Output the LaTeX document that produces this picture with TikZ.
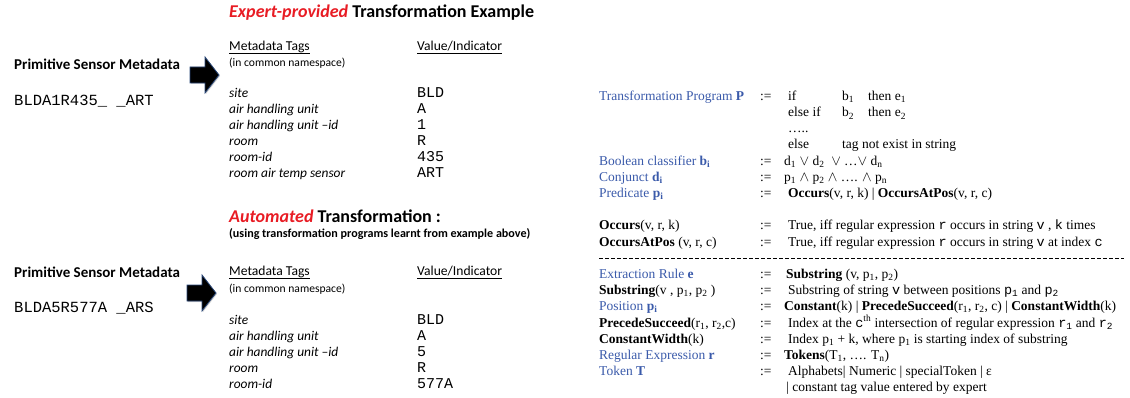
\documentclass[tikz,border=0pt]{standalone}
\usepackage{fontspec}
\newfontfamily\calibri{Carlito}
\newfontfamily\tmsfont{Liberation Serif}
\newfontfamily\lmono{Liberation Mono}
\usetikzlibrary{shadows}
\definecolor{ered}{RGB}{232,28,36}
\definecolor{pblue}{RGB}{58,90,170}
\definecolor{arrowedge}{RGB}{40,70,120}
\newcommand{\tw}[1]{{\lmono #1}}
\begin{document}
\begin{tikzpicture}[x=1pt,y=-1pt,
  every node/.style={inner sep=0pt, anchor=base west},
  ttl/.style={font=\calibri\bfseries\fontsize{18}{21}\selectfont},
  subt/.style={font=\calibri\bfseries\fontsize{12.1}{14}\selectfont},
  hdr/.style={font=\calibri\fontsize{13.6}{16}\selectfont},
  nsp/.style={font=\calibri\fontsize{11.6}{14}\selectfont},
  psm/.style={font=\calibri\bfseries\fontsize{15}{18}\selectfont},
  raw/.style={font=\lmono\fontsize{15.5}{18}\selectfont},
  tag/.style={font=\calibri\itshape\fontsize{13.4}{16}\selectfont},
  val/.style={font=\lmono\fontsize{15}{18}\selectfont},
  def/.style={font=\tmsfont\fontsize{13.5}{16}\selectfont},
  deflbl/.style={def, text=pblue},
  ulin/.style={line width=0.6pt},
  blockarrow/.style={fill=black, draw=arrowedge, line width=0.8pt, line join=miter,
    drop shadow={shadow xshift=1pt, shadow yshift=-1pt, opacity=0.35}},
  dashrule/.style={line width=1pt, dash pattern=on 4pt off 2pt}
]
\useasboundingbox (0,0) rectangle (1130,398);

% ---------------- top block ----------------
\node[ttl] (t1) at (229,17.5) {{\color{ered}\itshape Expert-provided} Transformation Example};
\node[hdr] (mt1) at (229,50.5) {Metadata Tags};
\node[hdr] (vi1) at (417,50.5) {Value/Indicator};
\draw[ulin] ([yshift=-2.5pt]mt1.base west) -- ([yshift=-2.5pt]mt1.base east);
\draw[ulin] ([yshift=-2.5pt]vi1.base west) -- ([yshift=-2.5pt]vi1.base east);
\node[nsp] (ns1) at (229,66.5) {(in common namespace)};
\node[psm] (psm1) at (14,69.5) {Primitive Sensor Metadata};
\node[raw] (raw1) at (14,106) {BLDA1R435\_ \_ART};
\draw[blockarrow] (190,67) -- (205,67) -- (205,57) -- (219,75) -- (205,93) -- (205,83) -- (190,83) -- cycle;

\node[tag] (a1) at (229,98) {site};
\node[tag] (a2) at (229,114) {air handling unit};
\node[tag] (a3) at (229,130) {air handling unit –id};
\node[tag] (a4) at (229,146) {room};
\node[tag] (a5) at (229,162) {room-id};
\node[tag] (a6) at (229,178) {room air temp sensor};
\node[val] (v1) at (417,98) {BLD};
\node[val] (v2) at (417,114) {A};
\node[val] (v3) at (417,130) {1};
\node[val] (v4) at (417,146) {R};
\node[val] (v5) at (417,162) {435};
\node[val] (v6) at (417,178) {ART};

% ---------------- bottom block ----------------
\node[ttl] (t2) at (229,223) {{\color{ered}\itshape Automated} Transformation :};
\node[subt] (us2) at (229,238) {(using transformation programs learnt from example above)};
\node[hdr] (mt2) at (229,276) {Metadata Tags};
\node[hdr] (vi2) at (417,276) {Value/Indicator};
\draw[ulin] ([yshift=-2.5pt]mt2.base west) -- ([yshift=-2.5pt]mt2.base east);
\draw[ulin] ([yshift=-2.5pt]vi2.base west) -- ([yshift=-2.5pt]vi2.base east);
\node[nsp] (ns2) at (229,292) {(in common namespace)};
\node[psm] (psm2) at (14,277.5) {Primitive Sensor Metadata};
\node[raw] (raw2) at (14,312) {BLDA5R577A \_ARS};
\draw[blockarrow] (187,285) -- (202,285) -- (202,275) -- (216,293) -- (202,311) -- (202,301) -- (187,301) -- cycle;

\node[tag] (b1) at (229,324) {site};
\node[tag] (b2) at (229,340) {air handling unit};
\node[tag] (b3) at (229,356) {air handling unit –id};
\node[tag] (b4) at (229,372) {room};
\node[tag] (b5) at (229,388) {room-id};
\node[val] (w1) at (417,324) {BLD};
\node[val] (w2) at (417,340) {A};
\node[val] (w3) at (417,356) {5};
\node[val] (w4) at (417,372) {R};
\node[val] (w5) at (417,388) {577A};

% ---------------- grammar ----------------
\node[deflbl] (g1) at (599,100.5) {Transformation Program \textbf{P}};
\node[def] (g1s) at (760,100.5) {:=};
\node[def] (g1a) at (788,100.5) {if};
\node[def] (g1b) at (842,100.5) {b\textsubscript{1}};
\node[def] (g1c) at (868,100.5) {then e\textsubscript{1}};
\node[def] (g2a) at (788,117) {else if};
\node[def] (g2b) at (842,117) {b\textsubscript{2}};
\node[def] (g2c) at (868,117) {then e\textsubscript{2}};
\node[def] (g3a) at (788,132.5) {\ldots..};
\node[def] (g4a) at (788,149) {else};
\node[def] (g4b) at (842,149) {tag not exist in string};

\node[deflbl] (g5) at (599,165.5) {Boolean classifier \textbf{b\textsubscript{i}}};
\node[def] (g5s) at (760,165.5) {:=};
\node[def] (g5a) at (784,165.5) {d\textsubscript{1} $\vee$\ d\textsubscript{2} \ $\vee$ \ldots$\vee$\ d\textsubscript{n}};
\node[deflbl] (g6) at (599,181.5) {Conjunct \textbf{d\textsubscript{i}}};
\node[def] (g6s) at (760,181.5) {:=};
\node[def] (g6a) at (784,181.5) {p\textsubscript{1} $\wedge$\ p\textsubscript{2} $\wedge$ \ldots. $\wedge$\ p\textsubscript{n}};
\node[deflbl] (g7) at (599,197.5) {Predicate \textbf{p\textsubscript{i}}};
\node[def] (g7s) at (760,197.5) {:=};
\node[def] (g7a) at (788,197.5) {\textbf{Occurs}(v, r, k) | \textbf{OccursAtPos}(v, r, c)};

\node[def] (g8) at (599,230) {\textbf{Occurs}(v, r, k)};
\node[def] (g8s) at (760,230) {:=};
\node[def] (g8a) at (788,230) {True, iff regular expression \tw{r} occurs in string \tw{v} , \tw{k} times};
\node[def] (g9) at (599,246.5) {\textbf{OccursAtPos} (v, r, c)};
\node[def] (g9s) at (760,246.5) {:=};
\node[def] (g9a) at (788,246.5) {True, iff regular expression \tw{r} occurs in string \tw{v} at index \tw{c}};

\coordinate (dl) at (599,258.5);
\coordinate (dr) at (1124,258.5);
\draw[dashrule] (dl) -- (dr);

\node[deflbl] (h1) at (599,278) {Extraction Rule \textbf{e}};
\node[def] (h1s) at (760,278) {:=};
\node[def] (h1a) at (786,278) {\textbf{Substring} (v, p\textsubscript{1}, p\textsubscript{2})};
\node[def] (h2) at (599,294.5) {\textbf{Substring}(v , p\textsubscript{1}, p\textsubscript{2} )};
\node[def] (h2s) at (760,294.5) {:=};
\node[def] (h2a) at (788,294.5) {Substring of string \tw{v} between positions \tw{p\textsubscript{1}} and \tw{p\textsubscript{2}}};
\node[deflbl] (h3) at (599,310.5) {Position \textbf{p\textsubscript{i}}};
\node[def] (h3s) at (760,310.5) {:=};
\node[def] (h3a) at (784,310.5) {\textbf{Constant}(k) | \textbf{PrecedeSucceed}(r\textsubscript{1}, r\textsubscript{2}, c) | \textbf{ConstantWidth}(k)};
\node[def] (h4) at (599,327) {\textbf{PrecedeSucceed}(r\textsubscript{1}, r\textsubscript{2},c)};
\node[def] (h4s) at (760,327) {:=};
\node[def] (h4a) at (788,327) {Index at the \tw{c}\textsuperscript{th} intersection of regular expression \tw{r\textsubscript{1}} and \tw{r\textsubscript{2}}};
\node[def] (h5) at (599,343) {\textbf{ConstantWidth}(k)};
\node[def] (h5s) at (760,343) {:=};
\node[def] (h5a) at (788,343) {Index p\textsubscript{1} + k, where p\textsubscript{1} is starting index of substring};
\node[deflbl] (h6) at (599,359.5) {Regular Expression \textbf{r}};
\node[def] (h6s) at (760,359.5) {:=};
\node[def] (h6a) at (784,359.5) {\textbf{Tokens}(T\textsubscript{1}, \ldots. T\textsubscript{n})};
\node[deflbl] (h7) at (599,375.5) {Token \textbf{T}};
\node[def] (h7s) at (760,375.5) {:=};
\node[def] (h7a) at (788,375.5) {Alphabets| Numeric | specialToken | ε};
\node[def] (h8a) at (786,391) {| constant tag value entered by expert};
\end{tikzpicture}
\end{document}
